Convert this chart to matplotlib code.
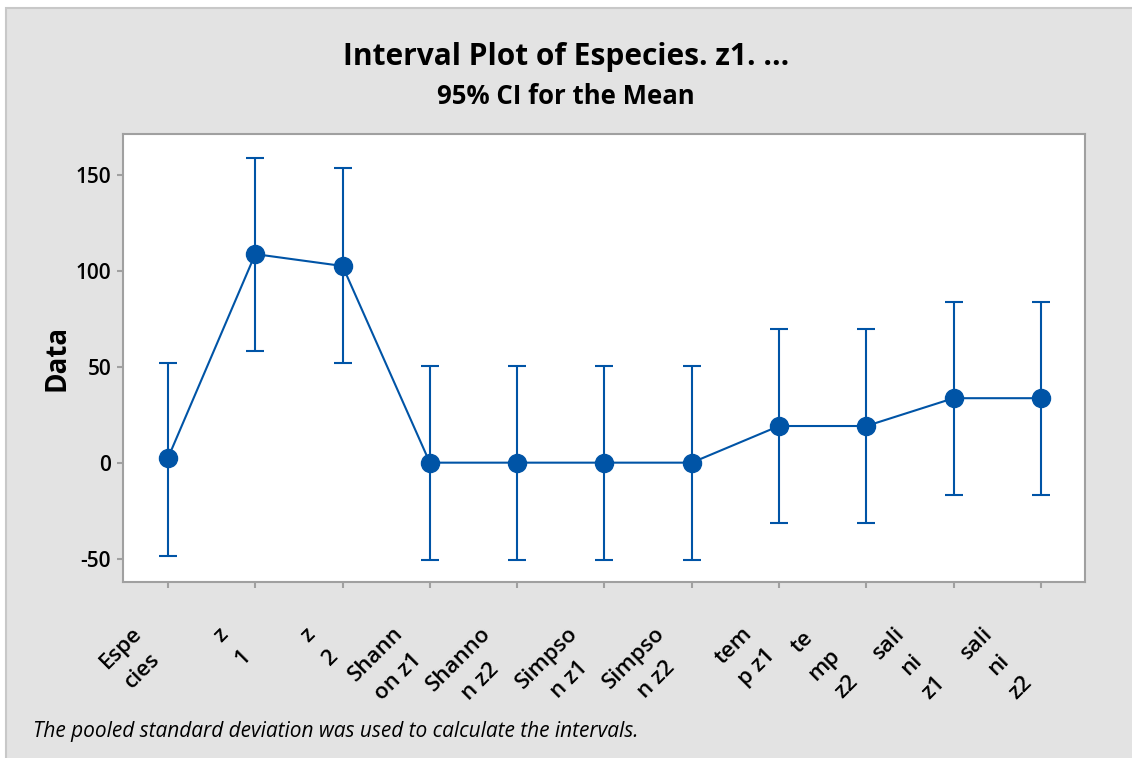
import matplotlib
matplotlib.use("Agg")
import matplotlib.pyplot as plt
import numpy as np

categories = ["Espe\ncies", "z\n1", "z\n2", "Shann\non z1", "Shanno\nn z2",
              "Simpso\nn z1", "Simpso\nn z2", "tem\np z1", "te\nmp\nz2",
              "sali\nni\nz1", "sali\nni\nz2"]
means = [2.6, 108.9, 102.7, 0.2, 0.2, 0.2, 0.2, 19.3, 19.3, 33.8, 33.8]
lower = [-48.2, 58.4, 52.2, -50.3, -50.3, -50.3, -50.3, -31.0, -31.0, -16.5, -16.5]
upper = [52.0, 159.0, 153.6, 50.7, 50.7, 50.7, 50.7, 69.7, 69.7, 84.1, 84.1]
yticks = [-50, 0, 50, 100, 150]

plt.rcParams['font.family'] = ['Open Sans', 'DejaVu Sans']
blue = "#0054A6"
bg = "#E3E3E3"

fig = plt.figure(figsize=(11.32, 7.58), dpi=100, facecolor="white")
W, H = 1132, 758
panel = matplotlib.patches.Rectangle((6 / W, -0.05), 1.1, 1.05 - 8 / H, transform=fig.transFigure,
                                     facecolor=bg, edgecolor="#c8c8c8", linewidth=1.5, zorder=-10)
fig.patches.append(panel)

ax = fig.add_axes([123 / W, 1 - 582 / H, (1085 - 123) / W, (582 - 134) / H])
ax.set_facecolor("white")
x = np.arange(len(categories))
m = np.array(means)
yerr = np.vstack([m - np.array(lower), np.array(upper) - m])
ax.errorbar(x, m, yerr=yerr, fmt="none", ecolor=blue, elinewidth=1.5, capsize=6.5, capthick=1.5)
ax.plot(x, m, color=blue, linewidth=1.5, marker="o", markersize=13, markerfacecolor=blue,
        markeredgecolor=blue, zorder=3)

ax.set_xlim(-0.515, 10.505)
ax.set_ylim(-62, 171.5)
ax.set_yticks(yticks)
ax.set_yticklabels([str(v) for v in yticks], fontsize=15, fontweight="semibold")
ax.set_xticks(x)
ax.set_xticklabels(categories, rotation=45, ha="right", va="top", rotation_mode="default",
                   multialignment="center", fontsize=16, fontweight="semibold", linespacing=1.65)
for s in ax.spines.values():
    s.set_color("#a0a0a0")
    s.set_linewidth(1.5)
ax.tick_params(axis="both", direction="out", color="#a0a0a0", width=1.5, length=4.5, pad=4)
ax.tick_params(axis="x", pad=25)
ax.set_ylabel("Data", fontsize=20, fontweight="bold", labelpad=3)

fig.text(0.5, 1 - 57 / H, "Interval Plot of Especies. z1. ...", ha="center", va="center",
         fontsize=21.5, fontweight="bold")
fig.text(0.5, 1 - 97 / H, "95% CI for the Mean", ha="center", va="center",
         fontsize=18.5, fontweight="bold")
fig.text(33 / W, 1 - 731 / H, "The pooled standard deviation was used to calculate the intervals.",
         ha="left", va="center", fontsize=15, style="italic")

fig.savefig("out.png", dpi=100, facecolor="white")
